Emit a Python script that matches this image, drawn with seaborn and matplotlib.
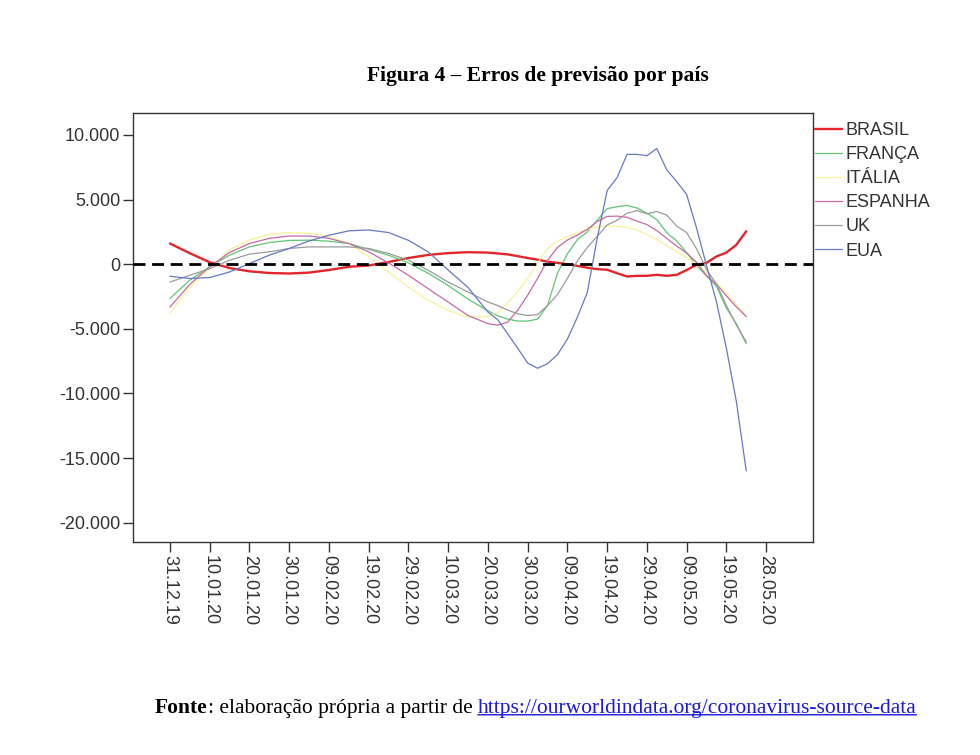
import numpy as np
import matplotlib
matplotlib.use("Agg")
import matplotlib.pyplot as plt
from matplotlib.ticker import FuncFormatter
import seaborn as sns

# --------------------------
# dados (erro de previsão)
# --------------------------
dias = [0, 5, 10, 15, 20, 25, 30, 35, 40, 45, 50, 55, 60, 65, 70, 75, 80,
        82.5, 85, 87.5, 90, 92.5, 95, 97.5, 100, 102.5, 105, 107.5, 110, 112.5,
        115, 117.5, 120, 122.5, 125, 127.5, 130, 132.5, 135, 137.5, 140, 142.5, 145]

brasil = [1600, 850, 150, -300, -550, -680, -720, -650, -450, -200, -100, 170, 480, 720, 860, 930, 900,
          830, 760, 620, 480, 350, 200, 100, 0, -130, -270, -380, -430, -700,
          -950, -900, -900, -820, -900, -820, -450, -50, 100, 600, 900, 1500, 2550]
franca = [-2650, -1240, -200, 700, 1340, 1680, 1840, 1860, 1780, 1600, 1150, 700, 100, -700, -1650, -2700, -3600,
          -4000, -4250, -4400, -4400, -4250, -3200, -700, 800, 1900, 2500, 3400, 4300, 4450,
          4550, 4350, 3950, 3450, 2450, 1800, 900, -100, -900, -1700, -3400, -4600, -6150]
italia = [-3790, -1770, -340, 1090, 1870, 2310, 2440, 2390, 2130, 1600, 570, -600, -1770, -2800, -3580, -4100, -4050,
          -3700, -3000, -2100, -1100, 100, 1200, 1800, 2130, 2420, 2700, 2870, 2960, 2930,
          2850, 2650, 2300, 1900, 1450, 950, 500, 0, -650, -1400, -2250, -3100, -4050]
espanha = [-3320, -1560, -200, 910, 1600, 2000, 2180, 2180, 2000, 1600, 960, 100, -860, -1900, -2930, -3970, -4600,
           -4720, -4470, -3560, -2400, -1100, 300, 1300, 1870, 2250, 2700, 3300, 3700, 3720,
           3630, 3330, 3070, 2600, 2000, 1400, 870, 150, -900, -1550, -2450, -3300, -4050]
uk = [-1380, -860, -340, 310, 780, 960, 1220, 1340, 1340, 1340, 1220, 830, 310, -470, -1380, -2150, -2930,
      -3200, -3550, -3840, -3970, -3900, -3200, -2350, -1100, 250, 1300, 2150, 3040, 3400,
      3950, 4150, 3900, 4080, 3800, 2950, 2450, 1200, -400, -1550, -3200, -4700, -6000]
eua = [-930, -1110, -1030, -600, 50, 700, 1220, 1800, 2240, 2580, 2650, 2450, 1850, 950, -450, -1800, -3700,
       -4300, -5400, -6500, -7650, -8050, -7700, -7000, -5800, -4100, -2200, 2000, 5700, 6700,
       8500, 8500, 8400, 8950, 7300, 6400, 5400, 2800, -100, -2900, -6500, -10600, -16000]

paises = ["BRASIL", "FRANÇA", "ITÁLIA", "ESPANHA", "UK", "EUA"]
series = [brasil, franca, italia, espanha, uk, eua]
cores = ["#e3262d", "#62c474", "#f8f29a", "#c66aa6", "#9b9b9b", "#6679c2"]
larguras = [1.7, 0.9, 0.9, 0.9, 0.9, 0.9]

tick_pos = list(range(0, 151, 10))
tick_lab = ["31.12.19", "10.01.20", "20.01.20", "30.01.20", "09.02.20", "19.02.20",
            "29.02.20", "10.03.20", "20.03.20", "30.03.20", "09.04.20", "19.04.20",
            "29.04.20", "09.05.20", "19.05.20", "28.05.20"]

# --------------------------
# estilo
# --------------------------
sns.set_theme(style="white")
plt.rcParams['font.family'] = ['Liberation Sans', 'DejaVu Sans']
plt.rcParams['axes.unicode_minus'] = False

fig = plt.figure(figsize=(9.8, 7.55), dpi=100)
ax = fig.add_axes([0.1357, 0.2821, 0.6939, 0.5682])

for nome, serie, cor, lw in zip(paises, series, cores, larguras):
    sns.lineplot(x=dias, y=serie, ax=ax, color=cor, linewidth=lw, label=nome)

ax.axhline(0, color="black", linewidth=2, dashes=(4.3, 2.4), zorder=5)

ax.set_xlim(-9.3, 161.8)
ax.set_ylim(-21500, 11700)
ax.set_yticks([10000, 5000, 0, -5000, -10000, -15000, -20000])
ax.yaxis.set_major_formatter(FuncFormatter(lambda v, p: f"{int(v):,}".replace(",", ".")))
ax.set_xticks(tick_pos)
ax.set_xticklabels(tick_lab, rotation=270, va="top", ha="center")
ax.set_xlabel("")
ax.set_ylabel("")

for s in ax.spines.values():
    s.set_visible(True)
    s.set_color("#333333")
    s.set_linewidth(1)
ax.tick_params(bottom=True, left=True, direction="out", length=7, width=1,
               color="#333333", labelsize=13, labelcolor="#333333", pad=2)

ax.legend(loc="upper left", bbox_to_anchor=(0.832, 0.838), bbox_transform=fig.transFigure,
          frameon=False, fontsize=13, handlelength=1.45, handletextpad=0.2,
          labelspacing=0.39, borderaxespad=0, borderpad=0, labelcolor="#333333")

# --------------------------
# título e fonte
# --------------------------
serif = ['Liberation Serif', 'DejaVu Serif']
fig.text(0.549, 0.90, "Figura 4 – Erros de previsão por país", ha="center", va="center",
         family=serif, weight="bold", size=15.5, color="black")

t1 = fig.text(155 / 980, 1 - 713 / 755, "Fonte", family=serif, weight="bold", size=15.5,
              va="baseline", ha="left", color="black")
t2 = ax.annotate(": elaboração própria a partir de ", xy=(1, 0), xycoords=t1,
                 va="bottom", ha="left", family=serif, size=15.5, color="black",
                 annotation_clip=False)
t3 = ax.annotate("https://ourworldindata.org/coronavirus-source-data", xy=(1, 0), xycoords=t2,
                 va="bottom", ha="left", family=serif, size=15.5, color="#1a1ad8",
                 annotation_clip=False)
ax.annotate("", xy=(0, 0.17), xycoords=t3, xytext=(1, 0.17), textcoords=t3,
            arrowprops=dict(arrowstyle="-", color="#1a1ad8", lw=1, shrinkA=0, shrinkB=0),
            annotation_clip=False)

fig.savefig("out.png", dpi=100)
